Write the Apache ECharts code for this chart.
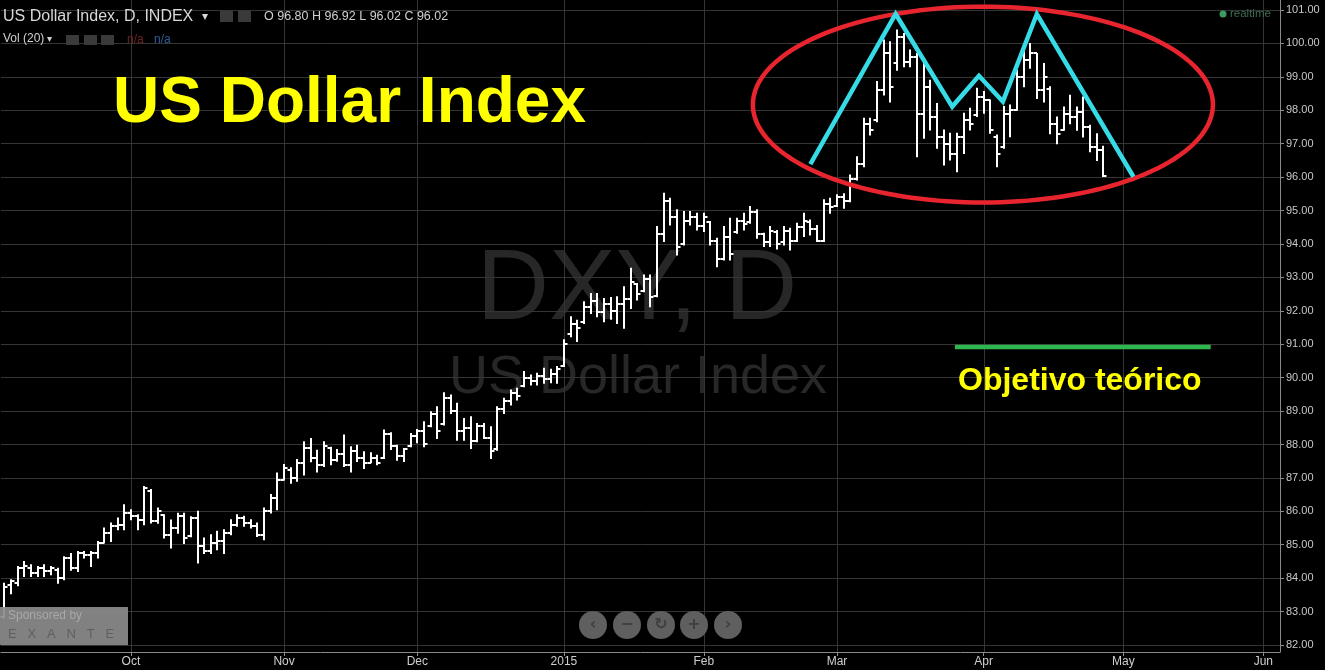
<!DOCTYPE html>
<html>
<head>
<meta charset="utf-8">
<script src="https://cdn.jsdelivr.net/npm/echarts@6/dist/echarts.min.js"></script>
<style>
html,body{margin:0;padding:0;background:#000;}
#chart{width:1325px;height:670px;}
</style>
</head>
<body>
<div id="chart"></div>
<script>
// ---------- trading days (categories), grouped by month ----------
const monthDays = [
  ['2014-09', [4,5,8,9,10,11,12,15,16,17,18,19,22,23,24,25,26,29,30]],
  ['2014-10', [1,2,3,6,7,8,9,10,13,14,15,16,17,20,21,22,23,24,27,28,29,30,31]],
  ['2014-11', [3,4,5,6,7,10,11,12,13,14,17,18,19,20,21,24,25,26,27,28]],
  ['2014-12', [1,2,3,4,5,8,9,10,11,12,15,16,17,18,19,22,23,24,26,29,30,31]],
  ['2015-01', [2,5,6,7,8,9,12,13,14,15,16,19,20,21,22,23,26,27,28,29,30]],
  ['2015-02', [2,3,4,5,6,9,10,11,12,13,16,17,18,19,20,23,24,25,26,27]],
  ['2015-03', [2,3,4,5,6,9,10,11,12,13,16,17,18,19,20,23,24,25,26,27,30,31]],
  ['2015-04', [1,2,6,7,8,9,10,13,14,15,16,17,20,21,22,23,24,27,28,29,30]],
  ['2015-05', [1,4,5,6,7,8,11,12,13,14,15,18,19,20,21,22,25,26,27,28,29]],
  ['2015-06', [1,2,3]]
];
// x-axis tick labels (month starts)
const monthTickLabels = {
  '2014-10':'Oct','2014-11':'Nov','2014-12':'Dec','2015-01':'2015',
  '2015-02':'Feb','2015-03':'Mar','2015-04':'Apr','2015-05':'May','2015-06':'Jun'
};

// ---------- OHLC values (one per trading day, from 2014-09-04) ----------
const openV = [
  82.85,83.80,83.85,84.30,84.30,84.15,84.30,84.20,84.25,84.00,
  84.60,84.30,84.75,84.70,84.75,85.05,85.35,85.55,85.60,85.95,
  85.85,85.75,86.60,85.70,85.90,85.30,85.50,85.85,85.25,85.80,
  84.95,84.80,85.05,85.10,85.35,85.60,85.80,85.65,85.55,85.30,
  86.00,86.40,86.95,87.25,87.00,87.45,87.90,87.60,87.40,87.90,
  87.55,87.70,87.40,87.80,87.60,87.45,87.60,87.60,88.30,87.95,
  87.65,87.95,88.25,88.40,88.55,88.90,88.60,89.40,89.00,88.40,
  88.50,88.10,88.55,88.20,87.85,89.05,89.30,89.55,89.75,90.00,
  89.90,90.05,89.95,90.10,90.35,91.30,91.60,91.65,92.10,92.30,
  91.95,92.20,92.00,92.20,92.35,92.80,92.60,92.95,92.45,94.30,
  95.30,94.80,94.00,94.70,94.80,94.55,94.65,94.10,93.55,94.20,
  94.35,94.70,94.65,94.95,94.30,94.05,94.35,94.05,94.40,94.10,
  94.50,94.65,94.45,94.10,95.20,95.15,95.40,95.30,95.95,96.40,
  97.60,97.70,98.60,99.70,99.40,100.20,99.45,99.60,97.90,98.70,
  97.80,97.20,97.00,96.70,97.20,97.70,97.85,98.40,98.30,97.20,
  96.90,97.90,98.00,99.00,99.50,99.70,98.60,98.65,97.60,97.40,
  97.90,97.80,97.95,97.50,96.90,96.80
];
const highV = [
  83.85,83.95,84.35,84.50,84.40,84.35,84.40,84.35,84.30,84.64,
  84.74,84.80,84.80,84.80,85.10,85.50,85.65,85.80,86.20,86.05,
  85.90,86.74,86.65,86.10,85.90,85.74,85.94,85.94,85.84,86.00,
  85.20,85.30,85.40,85.45,85.75,85.90,85.85,85.75,85.65,86.10,
  86.50,87.15,87.40,87.30,87.55,88.08,88.18,87.83,88.08,87.92,
  87.85,88.28,87.93,87.98,87.78,87.75,87.68,88.43,88.35,87.98,
  87.88,88.33,88.45,88.68,88.98,89.13,89.55,89.48,89.23,88.78,
  88.83,88.63,88.63,88.53,89.13,89.38,89.63,89.68,90.18,90.08,
  90.13,90.28,90.25,90.33,91.13,91.82,91.72,92.27,92.52,92.52,
  92.37,92.40,92.42,92.72,93.27,92.82,93.07,93.07,94.52,95.52,
  95.37,95.02,94.97,94.97,94.92,94.92,94.67,94.17,94.52,94.77,
  94.77,94.92,95.12,95.02,94.32,94.52,94.40,94.52,94.47,94.62,
  94.92,94.72,94.55,95.32,95.37,95.47,95.50,96.06,96.61,97.76,
  97.76,98.86,100.10,100.05,100.40,100.30,99.80,99.70,99.40,98.90,
  98.20,97.41,97.31,97.31,97.91,98.06,98.66,98.56,98.31,97.26,
  98.11,98.16,99.20,99.75,100.00,99.70,99.40,98.70,97.80,98.10,
  98.45,98.10,98.40,97.55,97.30,96.92
];
const lowV = [
  82.80,83.53,83.77,84.05,84.05,84.05,84.05,84.10,83.85,83.95,
  84.24,84.20,84.60,84.35,84.60,85.05,85.10,85.45,85.45,85.75,
  85.45,85.60,85.65,85.64,85.20,84.90,85.34,85.04,85.24,84.45,
  84.74,84.74,84.85,84.74,85.30,85.55,85.55,85.50,85.25,85.15,
  85.95,86.05,86.94,86.84,86.90,87.09,87.48,87.18,87.34,87.39,
  87.50,87.34,87.18,87.49,87.28,87.45,87.39,87.58,87.85,87.53,
  87.49,87.93,88.05,87.93,88.53,88.18,88.58,88.93,88.13,88.13,
  87.88,88.08,88.18,87.58,87.83,88.93,89.18,89.33,89.73,89.78,
  89.78,89.83,89.85,89.83,90.33,91.22,91.08,91.62,91.92,91.82,
  91.67,91.75,91.62,91.48,92.07,92.32,92.57,92.12,92.42,94.07,
  94.57,93.67,93.97,94.57,94.42,94.37,93.97,93.32,93.52,93.52,
  94.32,94.42,94.62,94.17,93.92,93.92,93.85,93.97,93.82,94.07,
  94.22,94.27,94.07,94.07,94.92,95.12,95.07,95.26,95.91,96.31,
  97.26,97.66,98.46,98.25,99.20,99.30,99.30,96.61,97.16,97.41,
  96.86,96.36,96.51,96.16,96.71,97.41,97.81,97.91,97.31,96.31,
  96.86,97.21,98.00,98.70,99.26,98.35,98.25,97.30,97.00,97.40,
  97.60,97.40,97.20,96.76,96.50,96.02
];
const closeV = [
  83.75,83.90,84.30,84.35,84.15,84.30,84.20,84.30,84.00,84.60,
  84.30,84.75,84.70,84.75,85.05,85.35,85.55,85.60,85.95,85.85,
  85.75,86.70,85.70,86.00,85.30,85.50,85.85,85.20,85.80,84.95,
  84.80,85.05,85.10,85.35,85.60,85.80,85.65,85.55,85.30,86.00,
  86.40,86.95,87.30,87.00,87.45,87.90,87.60,87.40,87.95,87.55,
  87.70,87.40,87.80,87.60,87.45,87.60,87.45,88.30,87.95,87.65,
  87.85,88.25,88.40,88.00,88.90,88.40,89.40,89.00,88.40,88.50,
  88.10,88.55,88.20,87.80,89.05,89.30,89.55,89.45,90.00,89.90,
  90.05,89.95,90.10,90.25,91.00,91.60,91.50,92.10,92.30,91.95,
  92.20,92.00,92.20,92.35,92.85,92.50,92.95,92.40,94.30,95.30,
  94.80,93.90,94.70,94.80,94.55,94.80,94.10,93.55,94.20,93.70,
  94.70,94.60,94.95,94.30,94.05,94.40,94.00,94.40,94.10,94.50,
  94.70,94.45,94.10,95.20,95.10,95.40,95.30,95.95,96.40,97.60,
  97.40,98.60,99.70,98.70,100.20,99.45,99.60,97.90,98.70,97.80,
  97.20,97.00,96.70,97.20,97.70,97.60,98.40,98.30,97.40,96.70,
  97.90,98.00,99.00,99.50,99.70,98.60,99.00,97.60,97.30,97.90,
  97.80,97.95,97.50,96.90,96.80,96.02
];

// ---------- hand-drawn annotations (x = trading-day index, y = index value) ----------
const cyanPattern = [[121.0,96.39],[133.8,100.88],[142.3,98.11],[146.3,99.03],[149.9,98.26],[155.0,100.88],[169.5,96.01]];
const redEllipse = [[146.9, 98.17, 34.53, 2.93]]; // centre x, centre y, radius x, radius y
const targetLine = [[142.7,90.92],[181.1,90.92]];

// ---------- y axis ----------
const yMin = 82, yMax = 101, yStep = 1;

// ---------- build categories ----------
const categories = [];
const monthStartIdx = [];
const labelAt = {};
monthDays.forEach(([ym, days]) => {
  if (monthTickLabels[ym]) {
    monthStartIdx.push(categories.length);
    labelAt[categories.length] = monthTickLabels[ym];
  }
  days.forEach(d => categories.push(ym + '-' + String(d).padStart(2, '0')));
});
const ohlc = openV.map((o, i) => [i, o, highV[i], lowV[i], closeV[i]]);
const lastClose = closeV[closeV.length - 1];

const GRID_L = 1, GRID_R = 45;
const gridColor = '#353535';
const axisColor = '#8a8a8a';
const labelFont = '"Liberation Sans", Arial, sans-serif';

const chart = echarts.init(document.getElementById('chart'), null, {renderer: 'canvas'});

const option = {
  backgroundColor: '#000',
  animation: false,
  grid: [
    {left: GRID_L, right: GRID_R, top: 10, bottom: 25},
    {left: GRID_L, right: GRID_R, top: 0, bottom: 18}
  ],
  xAxis: [
    {type: 'category', gridIndex: 0, data: categories, show: false, axisLine: {onZero: false}},
    {
      type: 'category', gridIndex: 1, data: categories,
      axisLine: {show: true, onZero: false, lineStyle: {color: axisColor, width: 1}},
      axisTick: {show: true, alignWithLabel: true, length: 4, lineStyle: {color: axisColor},
                 interval: (idx) => labelAt[idx] !== undefined},
      axisLabel: {show: true, color: '#cfcfcf', fontSize: 12, fontFamily: labelFont, margin: 4,
                  interval: (idx) => labelAt[idx] !== undefined,
                  formatter: (v, idx) => labelAt[idx] || ''},
      splitLine: {show: false}
    },
    {type: 'value', gridIndex: 0, min: -0.5, max: categories.length - 0.5, show: false, axisLine: {onZero: false}}
  ],
  yAxis: [
    {
      type: 'value', gridIndex: 0, position: 'right', min: yMin, max: yMax, interval: yStep,
      axisLine: {show: false, onZero: false},
      axisTick: {show: true, length: 4, lineStyle: {color: axisColor}},
      axisLabel: {color: '#c8c8c8', fontSize: 11, fontFamily: labelFont, margin: 6,
                  formatter: v => v.toFixed(2)},
      splitLine: {show: true, lineStyle: {color: gridColor, width: 1}}
    },
    {
      type: 'value', gridIndex: 1, position: 'right', min: 0, max: 1,
      axisLine: {show: true, onZero: false, lineStyle: {color: axisColor, width: 1}},
      axisTick: {show: false}, axisLabel: {show: false}, splitLine: {show: false}
    }
  ],
  series: [
    { // month grid lines (full height)
      type: 'custom', xAxisIndex: 1, yAxisIndex: 1, z: 1, silent: true,
      data: monthStartIdx.map(i => [i, 0.5]),
      encode: {x: 0, y: 1},
      renderItem: function (params, api) {
        const p = api.coord([api.value(0), 0.5]);
        const cs = params.coordSys;
        const x = Math.round(p[0]) + 0.5;
        return {type: 'line', shape: {x1: x, y1: cs.y, x2: x, y2: cs.y + cs.height},
                style: {stroke: gridColor, lineWidth: 1}};
      }
    },
    { // OHLC bars
      type: 'custom', name: 'DXY', xAxisIndex: 0, yAxisIndex: 0, z: 3, silent: true, clip: false,
      data: ohlc,
      encode: {x: 0, y: [1, 2, 3, 4]},
      renderItem: function (params, api) {
        const i = api.value(0);
        const o = api.coord([i, api.value(1)]);
        const h = api.coord([i, api.value(2)]);
        const l = api.coord([i, api.value(3)]);
        const c = api.coord([i, api.value(4)]);
        const x = Math.round(h[0]);
        const oy = Math.round(o[1]), cy = Math.round(c[1]);
        const st = {stroke: '#ffffff', lineWidth: 2};
        return {type: 'group', children: [
          {type: 'line', shape: {x1: x, y1: h[1] - 0.5, x2: x, y2: l[1] + 0.5}, style: st},
          {type: 'line', shape: {x1: x - 3.5, y1: oy, x2: x, y2: oy}, style: st},
          {type: 'line', shape: {x1: x, y1: cy, x2: x + 3.5, y2: cy}, style: st}
        ]};
      },
      markLine: {
        silent: true, symbol: ['none', 'none'],
        lineStyle: {opacity: 0},
        label: {show: true, position: 'end', distance: 1, formatter: lastClose.toFixed(2),
                backgroundColor: '#ffffff', color: '#222', fontSize: 11, fontFamily: labelFont,
                padding: [2, 4, 1, 4]},
        data: [{yAxis: lastClose}]
      }
    },
    { // red ellipse
      type: 'custom', xAxisIndex: 2, yAxisIndex: 0, z: 5, silent: true, clip: false,
      data: redEllipse,
      encode: {x: 0, y: 1},
      renderItem: function (params, api) {
        const c = api.coord([api.value(0), api.value(1)]);
        const s = api.size([api.value(2), api.value(3)]);
        const pts = [];
        const N = 160;
        for (let k = 0; k < N; k++) {
          const t = 2 * Math.PI * k / N;
          pts.push([c[0] + s[0] * Math.cos(t), c[1] + s[1] * Math.sin(t)]);
        }
        return {type: 'polygon', shape: {points: pts},
                style: {fill: 'none', stroke: '#e8252e', lineWidth: 4.5}};
      }
    },
    { // cyan pattern
      type: 'line', xAxisIndex: 2, yAxisIndex: 0, z: 6, silent: true, clip: false,
      data: cyanPattern, symbol: 'none',
      lineStyle: {color: '#35dce8', width: 4.5, join: 'miter'}
    },
    { // green target line
      type: 'line', xAxisIndex: 2, yAxisIndex: 0, z: 6, silent: true, clip: false,
      data: targetLine, symbol: 'none',
      lineStyle: {color: '#2fb74f', width: 4.5}
    }
  ],
  graphic: [
    // watermark
    {type: 'text', z: -1, silent: true, x: 637, y: 291,
     style: {text: 'DXY, D', font: '100px ' + labelFont, fill: '#272727', align: 'center', verticalAlign: 'middle'}},
    {type: 'text', z: -1, silent: true, x: 638, y: 378,
     style: {text: 'US Dollar Index', font: '54px ' + labelFont, fill: '#272727', align: 'center', verticalAlign: 'middle'}},
    // header
    {type: 'text', z: 50, silent: true, x: 3, y: 17,
     style: {text: 'US Dollar Index, D, INDEX', font: '16px ' + labelFont, fill: '#d8d8d8', verticalAlign: 'middle'}},
    {type: 'text', z: 50, silent: true, x: 202, y: 17,
     style: {text: '▾', font: '12px "DejaVu Sans"', fill: '#d8d8d8', verticalAlign: 'middle'}},
    {type: 'rect', z: 50, silent: true, shape: {x: 220, y: 11, width: 13, height: 11}, style: {fill: '#3a3a3a'}},
    {type: 'rect', z: 50, silent: true, shape: {x: 238, y: 11, width: 13, height: 11}, style: {fill: '#3a3a3a'}},
    {type: 'text', z: 50, silent: true, x: 264, y: 17,
     style: {text: 'O 96.80 H 96.92 L 96.02 C 96.02', font: '12.5px ' + labelFont, fill: '#d0d0d0', verticalAlign: 'middle'}},
    {type: 'text', z: 50, silent: true, x: 3, y: 39,
     style: {text: 'Vol (20)', font: '12px ' + labelFont, fill: '#d0d0d0', verticalAlign: 'middle'}},
    {type: 'text', z: 50, silent: true, x: 47, y: 39,
     style: {text: '▾', font: '10px "DejaVu Sans"', fill: '#d0d0d0', verticalAlign: 'middle'}},
    {type: 'rect', z: 50, silent: true, shape: {x: 66, y: 35, width: 13, height: 10}, style: {fill: '#3a3a3a'}},
    {type: 'rect', z: 50, silent: true, shape: {x: 84, y: 35, width: 13, height: 10}, style: {fill: '#3a3a3a'}},
    {type: 'rect', z: 50, silent: true, shape: {x: 101, y: 35, width: 13, height: 10}, style: {fill: '#3a3a3a'}},
    {type: 'text', z: 50, silent: true, x: 127, y: 40,
     style: {text: 'n/a', font: '12px ' + labelFont, fill: '#6e2222', verticalAlign: 'middle'}},
    {type: 'text', z: 50, silent: true, x: 154, y: 40,
     style: {text: 'n/a', font: '12px ' + labelFont, fill: '#2d5f9e', verticalAlign: 'middle'}},
    // realtime
    {type: 'circle', z: 50, silent: true, shape: {cx: 1223, cy: 14, r: 3.5}, style: {fill: '#3c9c5f'}},
    {type: 'text', z: 50, silent: true, x: 1230, y: 14,
     style: {text: 'realtime', font: '11.5px ' + labelFont, fill: '#3d6e50', verticalAlign: 'middle'}},
    // big yellow title
    {type: 'text', z: 60, silent: true, x: 113, y: 104,
     style: {text: 'US Dollar Index', font: 'bold 64px ' + labelFont, fill: '#ffff00', verticalAlign: 'middle'}},
    // target text
    {type: 'text', z: 60, silent: true, x: 958, y: 381,
     style: {text: 'Objetivo teórico', font: 'bold 32px ' + labelFont, fill: '#ffff00', verticalAlign: 'middle'}},
    // sponsored box
    {type: 'rect', z: 40, silent: true, shape: {x: 0, y: 607, width: 128, height: 38}, style: {fill: 'rgba(140,140,140,0.92)'}},
    {type: 'text', z: 41, silent: true, x: 8, y: 616,
     style: {text: 'Sponsored by', font: '12px ' + labelFont, fill: '#a8a8a8', verticalAlign: 'middle'}},
    {type: 'text', z: 41, silent: true, x: 8, y: 634,
     style: {text: 'E   X   A   N   T   E', font: '13px ' + labelFont, fill: '#5f5f5f', verticalAlign: 'middle'}},
    // navigation buttons
    ...[[593, '‹'], [627, '−'], [661, '↻'], [694, '+'], [728, '›']].flatMap(([cx, g]) => [
      {type: 'circle', z: 40, silent: true, shape: {cx: cx, cy: 625, r: 14}, style: {fill: '#5f5f5f'}},
      {type: 'text', z: 41, silent: true, x: cx, y: 625,
       style: {text: g, font: 'bold 16px "DejaVu Sans"', fill: '#3f3f3f', align: 'center', verticalAlign: 'middle'}}
    ])
  ]
};
chart.setOption(option);
</script>
</body>
</html>
